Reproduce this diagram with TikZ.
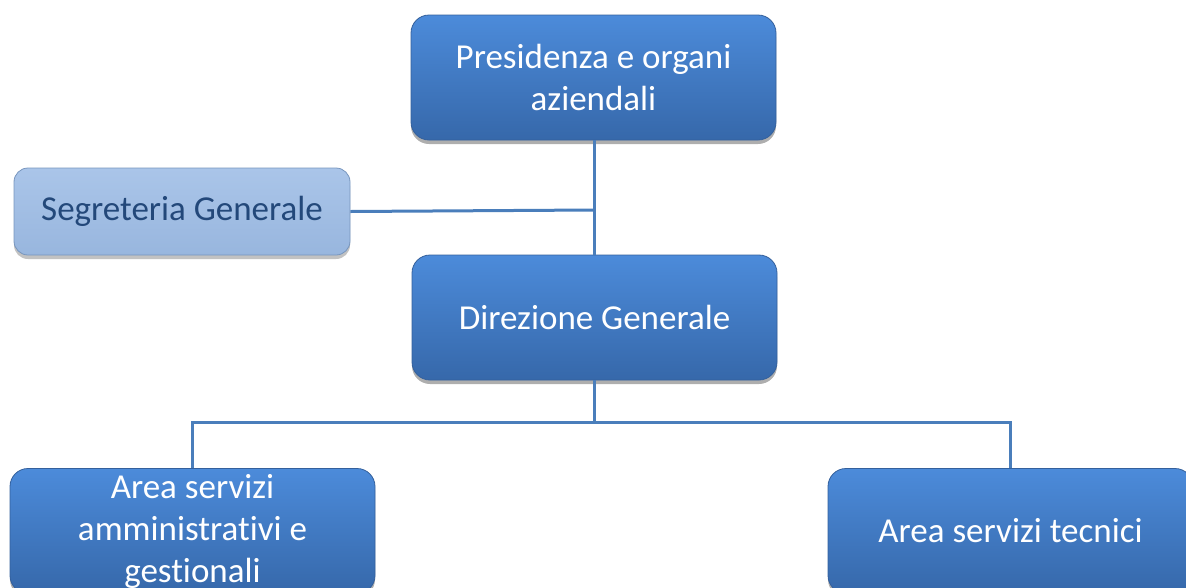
\documentclass[tikz,border=0pt]{standalone}
\usepackage{fontspec}
\setmainfont{Carlito}[Ligatures={NoCommon}]
\usetikzlibrary{shadows}
\definecolor{boxtop}{RGB}{76,139,218}
\definecolor{boxbot}{RGB}{54,104,170}
\definecolor{boxedge}{RGB}{52,96,156}
\definecolor{lighttop}{RGB}{170,197,233}
\definecolor{lightbot}{RGB}{152,182,222}
\definecolor{lightedge}{RGB}{120,150,190}
\definecolor{darktext}{RGB}{35,72,122}
\definecolor{linecol}{RGB}{74,126,187}
\tikzset{
  orgbox/.style={rectangle, rounded corners=18pt, top color=boxtop, bottom color=boxbot,
    draw=boxedge, line width=0.8pt, inner sep=0pt, align=center, text=white,
    font=\fontsize{35}{42}\selectfont,
    drop shadow={shadow xshift=0pt, shadow yshift=-4pt, opacity=0.45, fill=black!70}},
  lightbox/.style={rectangle, rounded corners=14pt, top color=lighttop, bottom color=lightbot,
    draw=lightedge, line width=0.8pt, inner sep=0pt, align=center, text=darktext,
    font=\fontsize{35}{42}\selectfont,
    drop shadow={shadow xshift=0pt, shadow yshift=-4pt, opacity=0.4, fill=black!60}},
  conn/.style={draw=linecol, line width=3pt}
}
\begin{document}
\begin{tikzpicture}[x=1pt,y=-1pt]
\useasboundingbox (0,0) rectangle (1186,587);
\clip (0,0) rectangle (1186,587);
\node[orgbox, minimum width=365pt, minimum height=125pt] (P) at (593.5,77.5) {Presidenza e organi\\aziendali};
\node[lightbox, minimum width=336pt, minimum height=87pt] (S) at (182,211.5) {Segreteria Generale};
\node[orgbox, minimum width=365pt, minimum height=125pt] (D) at (594.5,317.5) {Direzione Generale};
\node[orgbox, minimum width=365pt, minimum height=125pt] (A) at (192.5,531) {Area servizi\\amministrativi e\\gestionali};
\node[orgbox, minimum width=365pt, minimum height=125pt] (T) at (1010.5,531) {Area servizi tecnici};
\coordinate (J) at (594,210);
\coordinate (B) at (594,422);
\draw[conn] (P.south -| J) -- (D.north -| J);
\draw[conn] (S.east) -- (J);
\draw[conn] (D.south -| B) -- (B);
\draw[conn] (A.north) |- (B) -| (T.north);
\end{tikzpicture}
\end{document}
